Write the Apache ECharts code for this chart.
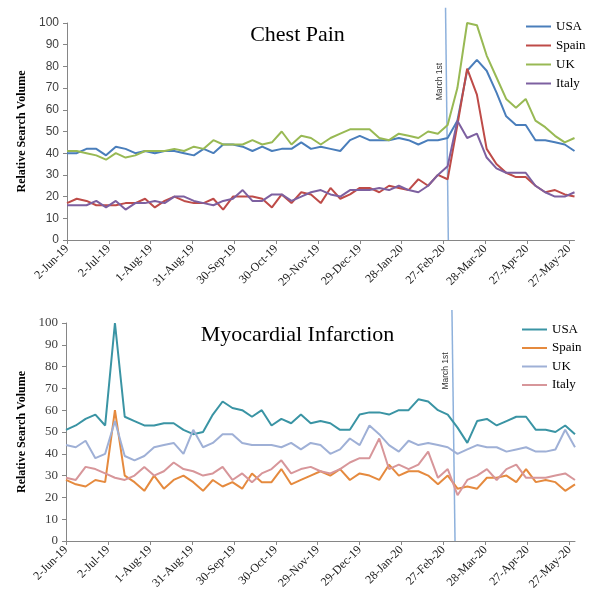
<!DOCTYPE html>
<html><head><meta charset="utf-8">
<script src="https://cdn.jsdelivr.net/npm/echarts@6/dist/echarts.min.js"></script>
<style>html,body{margin:0;padding:0;background:#fff}#top{width:595px;height:300px}#bot{width:595px;height:309px}</style>
</head><body><div id="top"></div><div id="bot"></div>
<script>
// Weekly observation dates
const weeks = ['2019-06-02','2019-06-09','2019-06-16','2019-06-23','2019-06-30','2019-07-07','2019-07-14','2019-07-21','2019-07-28',
'2019-08-04','2019-08-11','2019-08-18','2019-08-25','2019-09-01','2019-09-08','2019-09-15','2019-09-22','2019-09-29',
'2019-10-06','2019-10-13','2019-10-20','2019-10-27','2019-11-03','2019-11-10','2019-11-17','2019-11-24','2019-12-01',
'2019-12-08','2019-12-15','2019-12-22','2019-12-29','2020-01-05','2020-01-12','2020-01-19','2020-01-26','2020-02-02',
'2020-02-09','2020-02-16','2020-02-23','2020-03-01','2020-03-08','2020-03-15','2020-03-22','2020-03-29','2020-04-05',
'2020-04-12','2020-04-19','2020-04-26','2020-05-03','2020-05-10','2020-05-17','2020-05-24','2020-05-31'];
const tickDates = ['2019-06-02','2019-07-02','2019-08-01','2019-08-31','2019-09-30','2019-10-30','2019-11-29','2019-12-29','2020-01-28','2020-02-27','2020-03-28','2020-04-27','2020-05-27'];
const tickLabels = ['2-Jun-19','2-Jul-19','1-Aug-19','31-Aug-19','30-Sep-19','30-Oct-19','29-Nov-19','29-Dec-19','28-Jan-20','27-Feb-20','28-Mar-20','27-Apr-20','27-May-20'];
const countries = ['USA','Spain','UK','Italy'];

// Chest Pain
const chestUSA   = [40,40,42,42,39,43,42,40,41,40,41,41,40,39,42,40,44,44,43,41,43,41,42,42,45,42,43,42,41,46,48,46,46,46,47,46,44,46,46,47,55,78,83,78,68,57,53,53,46,46,45,44,41];
const chestSpain = [17,19,18,16,16,16,17,17,19,15,18,20,18,17,17,19,14,20,20,20,19,15,21,17,22,21,17,24,19,21,24,24,22,25,24,23,28,25,30,28,53,79,67,42,35,31,29,29,25,22,23,21,20];
const chestUK    = [41,41,40,39,37,40,38,39,41,41,41,42,41,43,42,46,44,44,44,46,44,45,50,44,48,47,44,47,49,51,51,51,47,46,49,48,47,50,49,53,70,100,99,85,75,65,61,65,55,52,48,45,47];
const chestItaly = [16,16,16,18,15,18,14,17,17,18,17,20,20,18,17,16,18,19,23,18,18,21,21,18,20,22,23,21,20,23,23,23,24,23,25,23,22,25,30,34,55,47,49,38,33,31,31,31,25,22,20,20,22];

// Myocardial Infarction
const miUSA   = [51,53,56,58,53,100,57,55,53,53,54,54,51,49,50,58,64,61,60,57,60,53,56,54,58,54,55,54,51,51,58,59,59,58,60,60,65,64,60,58,52,45,55,56,53,55,57,57,51,51,50,53,49];
const miSpain = [28,26,25,28,27,60,30,27,23,30,24,28,30,27,23,28,25,27,24,31,27,27,33,26,28,30,32,30,33,28,31,30,28,35,30,32,32,30,26,30,24,25,24,29,29,30,27,33,27,28,27,23,26];
const miUK    = [44,43,46,38,40,55,39,37,39,43,44,45,40,51,43,45,49,49,45,44,44,44,43,45,42,45,44,40,42,47,44,53,49,44,41,46,44,45,44,43,40,42,44,43,43,41,42,43,41,41,42,51,43];
const miItaly = [29,28,34,33,31,29,28,30,34,30,32,36,33,32,30,31,34,28,31,27,31,33,37,31,33,34,32,31,33,36,38,38,47,33,35,33,35,41,29,33,21,28,30,33,28,33,35,29,29,29,30,31,28];

// "March 1st" reference line endpoints [day offset, value]
const marchLineChest = [[271.5,107],[273.5,0]];
const marchLineMI    = [[276,106],[278.2,0]];
const marchLabel = 'March 1st';

const DAY = 86400000;
const t0 = Date.parse(weeks[0]);
const dayOf = s => Math.round((Date.parse(s) - t0) / DAY);
const weekDays = weeks.map(dayOf);
const tickDays = tickDates.map(dayOf);

const SERIF = "'Liberation Serif','Times New Roman',serif";
const SANS = "'Liberation Sans',Arial,sans-serif";

function build(cfg) {
  return {
    animation: false,
    title: { text: cfg.title, left: 'center', top: cfg.titleTop,
      textStyle: { fontFamily: SERIF, fontSize: 22, fontWeight: 'normal', color: '#000' } },
    legend: { orient: 'vertical', left: cfg.legendLeft, top: cfg.legendTop, itemWidth: 25, itemHeight: 2,
      itemGap: cfg.legendGap, icon: 'rect', data: countries,
      textStyle: { fontFamily: SERIF, fontSize: 13, color: '#000', lineHeight: 13 } },
    grid: { left: cfg.gridLeft, top: cfg.gridTop, right: cfg.gridRight, height: cfg.gridHeight, outerBoundsMode: 'none' },
    xAxis: { type: 'value', min: 0, max: 364,
      axisLine: { lineStyle: { color: '#868686', width: 1 } },
      axisTick: { show: true, customValues: tickDays, length: 4, lineStyle: { color: '#868686' } },
      axisLabel: { customValues: tickDays, rotate: 45, margin: 7, fontFamily: SERIF, fontSize: 12, color: '#1a1a1a',
        formatter: v => { const i = tickDays.indexOf(Math.round(v)); return i >= 0 ? tickLabels[i] : ''; } },
      splitLine: { show: false } },
    yAxis: { type: 'value', min: 0, max: 100, interval: 10,
      name: 'Relative Search Volume', nameLocation: 'middle', nameGap: cfg.nameGap,
      nameTextStyle: { fontFamily: SERIF, fontWeight: 'bold', fontSize: 12, color: '#000' },
      axisLine: { show: true, lineStyle: { color: '#868686' } },
      axisTick: { show: true, length: 4, lineStyle: { color: '#868686' } },
      axisLabel: { margin: 8, fontFamily: cfg.yFont, fontSize: cfg.yFontSize, color: '#404040' },
      splitLine: { show: false } },
    series: countries.map((c, k) => ({
      name: c, type: 'line', symbol: 'none', smooth: false,
      data: weekDays.map((d, i) => [d, cfg.values[k][i]]),
      lineStyle: { width: 2, color: cfg.colors[k] }, itemStyle: { color: cfg.colors[k] }, z: 3
    })).concat([{
      name: 'march', type: 'line', symbol: 'none', clip: false, silent: true, z: 2,
      data: cfg.marchLine, lineStyle: { width: 1.5, color: '#8eb1dc' }
    }])
  };
}

function addLabel(chart, cfg) {
  const [a, b] = cfg.marchLine;
  const f = (a[1] - cfg.labelValue) / (a[1] - b[1]);
  const day = a[0] + (b[0] - a[0]) * f;
  const p = chart.convertToPixel({ gridIndex: 0 }, [day, cfg.labelValue]);
  chart.setOption({ graphic: [{ type: 'text', x: p[0] - 7, y: p[1], rotation: Math.PI / 2,
    style: { text: marchLabel, align: 'center', verticalAlign: 'middle', font: '8.5px ' + SANS, fill: '#333' } }] });
}

const cfgTop = { title: 'Chest Pain', titleTop: 19, legendLeft: 521, legendTop: 15, legendGap: 6,
  gridLeft: 67, gridTop: 23, gridRight: 20.5, gridHeight: 217, nameGap: 34, yFont: SANS, yFontSize: 12,
  values: [chestUSA, chestSpain, chestUK, chestItaly],
  colors: ['#4a7ebb', '#be4b48', '#98b954', '#7d60a0'], marchLine: marchLineChest, labelValue: 73 };
const cfgBot = { title: 'Myocardial Infarction', titleTop: 19, legendLeft: 517, legendTop: 18, legendGap: 5.5,
  gridLeft: 66, gridTop: 23, gridRight: 20, gridHeight: 218, nameGap: 35, yFont: SERIF, yFontSize: 13,
  values: [miUSA, miSpain, miUK, miItaly],
  colors: ['#3a94a4', '#e58a3e', '#9fb0d6', '#d7969a'], marchLine: marchLineMI, labelValue: 78 };

const c1 = echarts.init(document.getElementById('top'), null, { renderer: 'canvas' });
c1.setOption(build(cfgTop)); addLabel(c1, cfgTop);
const c2 = echarts.init(document.getElementById('bot'), null, { renderer: 'canvas' });
c2.setOption(build(cfgBot)); addLabel(c2, cfgBot);
</script></body></html>
